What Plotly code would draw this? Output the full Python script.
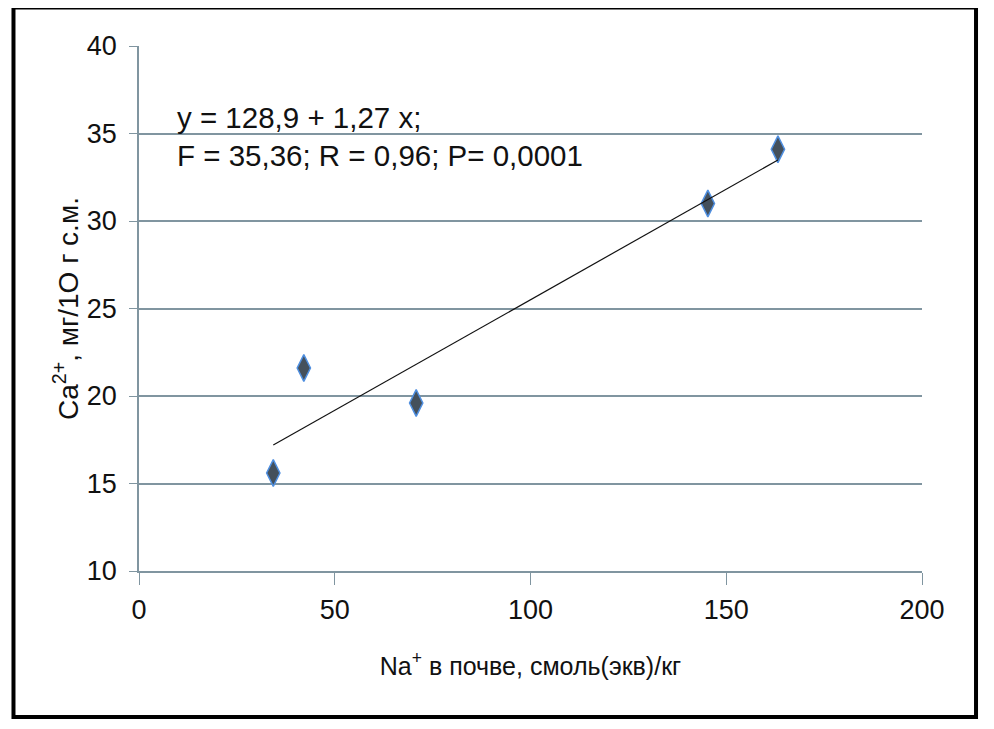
import numpy
import plotly.graph_objects

# Na+ in soil vs Ca2+ in plant
na_soil = [34.3, 42.1, 70.8, 145.3, 163.2]
ca_plant = [15.6, 21.6, 19.6, 31.0, 34.1]

x_ticks = [0, 50, 100, 150, 200]
y_ticks = [10, 15, 20, 25, 30, 35, 40]

equation_text = "y = 128,9 + 1,27 x;<br>F = 35,36; R = 0,96; P= 0,0001"

slope, intercept = numpy.polyfit(na_soil, ca_plant, 1)
fit_x = [min(na_soil), max(na_soil)]
fit_y = [intercept + slope * v for v in fit_x]

grid_color = "#8095a0"
font_name = "Liberation Sans, Arial, sans-serif"

fig = plotly.graph_objects.Figure()

fig.add_trace(plotly.graph_objects.Scatter(
    x=na_soil,
    y=ca_plant,
    mode="markers",
    marker=dict(
        symbol="diamond-tall",
        size=19,
        color="#44505c",
        line=dict(color="#4f8fe0", width=1.5),
    ),
    showlegend=False,
))

fig.add_trace(plotly.graph_objects.Scatter(
    x=fit_x,
    y=fit_y,
    mode="lines",
    line=dict(color="#111111", width=1.2),
    showlegend=False,
))

fig.update_xaxes(
    range=[0, 200],
    tickvals=x_ticks,
    showgrid=False,
    showline=True,
    linecolor=grid_color,
    linewidth=1.5,
    ticks="outside",
    ticklen=12,
    tickcolor=grid_color,
    tickfont=dict(size=27, color="#111111"),
    ticklabelstandoff=2,
    zeroline=False,
    title=dict(
        text="Na<sup>+</sup> в почве, смоль(экв)/кг",
        font=dict(size=25, color="#111111"),
        standoff=33,
    ),
)
fig.update_yaxes(
    range=[10, 40],
    tickvals=y_ticks,
    showgrid=True,
    gridcolor=grid_color,
    gridwidth=1.5,
    showline=True,
    linecolor=grid_color,
    linewidth=1.5,
    ticks="outside",
    ticklen=8,
    tickcolor=grid_color,
    tickfont=dict(size=27, color="#111111"),
    ticklabelstandoff=7,
    zeroline=False,
    title=dict(
        text="Ca<sup>2+</sup>, мг/1О г с.м.",
        font=dict(size=28, color="#111111"),
        standoff=0,
    ),
)

fig.add_annotation(
    x=0.046,
    y=0.90,
    xref="paper",
    yref="paper",
    text=equation_text,
    showarrow=False,
    xanchor="left",
    yanchor="top",
    align="left",
    font=dict(size=29.5, color="#111111"),
)

# black frame around the whole chart
fig.add_shape(
    type="rect",
    xref="paper",
    yref="paper",
    x0=-0.1603,
    x1=1.069,
    y0=-0.278,
    y1=1.0733,
    line=dict(color="black", width=4),
    layer="above",
)

# the page body has an 8px margin, so the figure is 8px smaller and shifted
fig.update_layout(
    width=986,
    height=721,
    margin=dict(l=131, r=72, t=38, b=158),
    plot_bgcolor="white",
    paper_bgcolor="white",
    font=dict(family=font_name),
)

fig.write_html("out.html")
